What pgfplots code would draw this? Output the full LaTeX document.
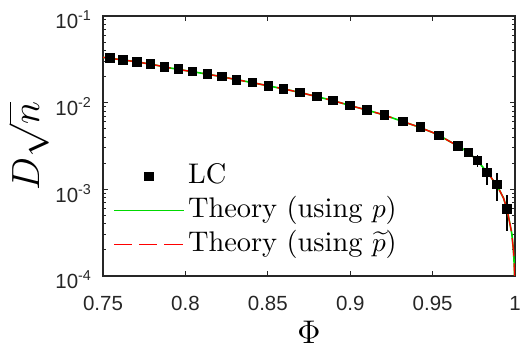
\documentclass[border=0pt]{standalone}
\usepackage{pgfplots}
\pgfplotsset{compat=1.18}
\usepackage{fontspec}
\newfontfamily\tickfont{Liberation Sans}
\definecolor{axgray}{rgb}{0.15,0.15,0.15}
\definecolor{mgreen}{rgb}{0,0.85,0}
\definecolor{mred}{rgb}{1,0,0}
\begin{document}
\begin{tikzpicture}
\begin{axis}[
  name=main,
  scale only axis,
  width=150.4bp, height=94.9bp,
  xmin=0.75, xmax=1, ymin=1e-4, ymax=1e-1,
  ymode=log,
  xtick={0.75,0.8,0.85,0.9,0.95,1},
  xticklabels={0.75,0.8,0.85,0.9,0.95,1},
  ytick={1e-4,1e-3,1e-2,1e-1},
  yticklabels={{10\textsuperscript{-4}},{10\textsuperscript{-3}},{10\textsuperscript{-2}},{10\textsuperscript{-1}}},
  ticklabel style={font=\tickfont\fontsize{7.5}{9}\selectfont, text=axgray},
  xticklabel style={yshift=-3.8bp},
  yticklabel style={xshift=-0.4bp, yshift=-1.5bp},
  tick align=inside,
  major tick length=1.9bp, minor tick length=1.1bp,
  every tick/.style={axgray, line width=0.3bp},
  axis line style={axgray, line width=0.45bp},
  xlabel={$\Phi$}, ylabel={$D\sqrt{n}$},
  xlabel style={font=\fontsize{11.6}{14}\selectfont, at={(axis description cs:0.5,-0.217)}, anchor=center, inner sep=0pt},
  ylabel style={font=\fontsize{13.4}{16}\selectfont, at={(axis description cs:-0.181,0.5)}, anchor=center, inner sep=0pt},
  legend image code/.code={\draw[mark repeat=2,mark phase=2,#1] plot coordinates {(0bp,0bp) (12.75bp,0bp) (25.5bp,0bp)};},
  legend style={at={(axis description cs:0.0235,0.449)}, anchor=north west, draw=none, fill=none,
    inner xsep=0pt, inner ysep=0pt,
    nodes={inner sep=1.2bp, text height=0.75em, text depth=0.25em},
    font=\fontsize{10.4}{12.5}\selectfont, row sep=0bp},
  legend cell align=left,
]
\addplot[only marks, mark=square*, mark size=1.55bp, black,
  error bars/.cd, y dir=both, y explicit, error mark=none,
  error bar style={black, line width=0.55bp, solid}]
coordinates {
(0.7542,0.0325) +- (0,0.0004)
(0.7623,0.0310) +- (0,0.0004)
(0.7705,0.0294) +- (0,0.0004)
(0.7789,0.0277) +- (0,0.0004)
(0.7872,0.0256) +- (0,0.0004)
(0.7957,0.0243) +- (0,0.0004)
(0.8044,0.0228) +- (0,0.0004)
(0.8133,0.0212) +- (0,0.0004)
(0.8222,0.0200) +- (0,0.0003)
(0.8311,0.0183) +- (0,0.0003)
(0.8406,0.0170) +- (0,0.0003)
(0.8503,0.0156) +- (0,0.0003)
(0.8594,0.0144) +- (0,0.0003)
(0.8695,0.0131) +- (0,0.0002)
(0.8797,0.01172) +- (0,0.0002)
(0.8894,0.01054) +- (0,0.0002)
(0.8999,0.00923) +- (0,0.0002)
(0.9102,0.00823) +- (0,0.0002)
(0.9209,0.00721) +- (0,0.0002)
(0.9319,0.00603) +- (0,0.0002)
(0.9427,0.00524) +- (0,0.0002)
(0.9539,0.00416) +- (0,0.0005)
(0.9652,0.00316) +- (0,0.0004)
(0.9717,0.00265) +- (0,0.0003)
(0.9771,0.00214) +- (0,0.00035)
(0.9830,0.00156) +- (0,0.00044)
(0.9891,0.00114) +- (0,0.0004)
(0.9951,0.000589) +- (0,0.00026)
};
\addlegendentry{LC}
\addplot[mgreen, line width=0.6bp, no marks] coordinates {
(0.75,0.0332) (0.76,0.0314) (0.77,0.0296) (0.78,0.0275) (0.79,0.0252)
(0.80,0.0234) (0.81,0.0218) (0.82,0.0202) (0.83,0.01854) (0.84,0.01706)
(0.85,0.01563) (0.86,0.01432) (0.87,0.0130) (0.88,0.01169) (0.89,0.01047)
(0.90,0.00923) (0.91,0.00820) (0.92,0.00724) (0.93,0.00622) (0.94,0.00535)
(0.95,0.00452) (0.955,0.00407) (0.96,0.00359) (0.965,0.00318) (0.97,0.00279)
(0.975,0.00234) (0.98,0.00184) (0.985,0.00141) (0.99,0.00102) (0.993,0.00079)
(0.995,0.000596) (0.997,0.000389) (0.998,0.000309) (0.999,0.0002) (0.9995,0.000135)
(0.9998,0.000089)
};
\addlegendentry{Theory (using $p$)}
\addplot[mred, line width=0.5bp, no marks, dash pattern=on 6.6bp off 2.6bp] coordinates {
(0.75,0.0332) (0.76,0.0314) (0.77,0.0296) (0.78,0.0275) (0.79,0.0252)
(0.80,0.0234) (0.81,0.0218) (0.82,0.0202) (0.83,0.01854) (0.84,0.01706)
(0.85,0.01563) (0.86,0.01432) (0.87,0.0130) (0.88,0.01169) (0.89,0.01047)
(0.90,0.00923) (0.91,0.00820) (0.92,0.00724) (0.93,0.00622) (0.94,0.00535)
(0.95,0.00452) (0.955,0.00407) (0.96,0.00359) (0.965,0.00318) (0.97,0.00279)
(0.975,0.00234) (0.98,0.00184) (0.985,0.00141) (0.99,0.00102) (0.993,0.00079)
(0.995,0.000596) (0.997,0.000389) (0.998,0.000309) (0.999,0.0002) (0.9995,0.000135)
(0.9998,0.000089)
};
\addlegendentry{Theory (using $\widetilde{p}$)}
\end{axis}
\pgfresetboundingbox
\path ([shift={(-37.6bp,-26.3bp)}]main.south west) rectangle ([shift={(1.8bp,5.8bp)}]main.north east);
\end{tikzpicture}
\end{document}
